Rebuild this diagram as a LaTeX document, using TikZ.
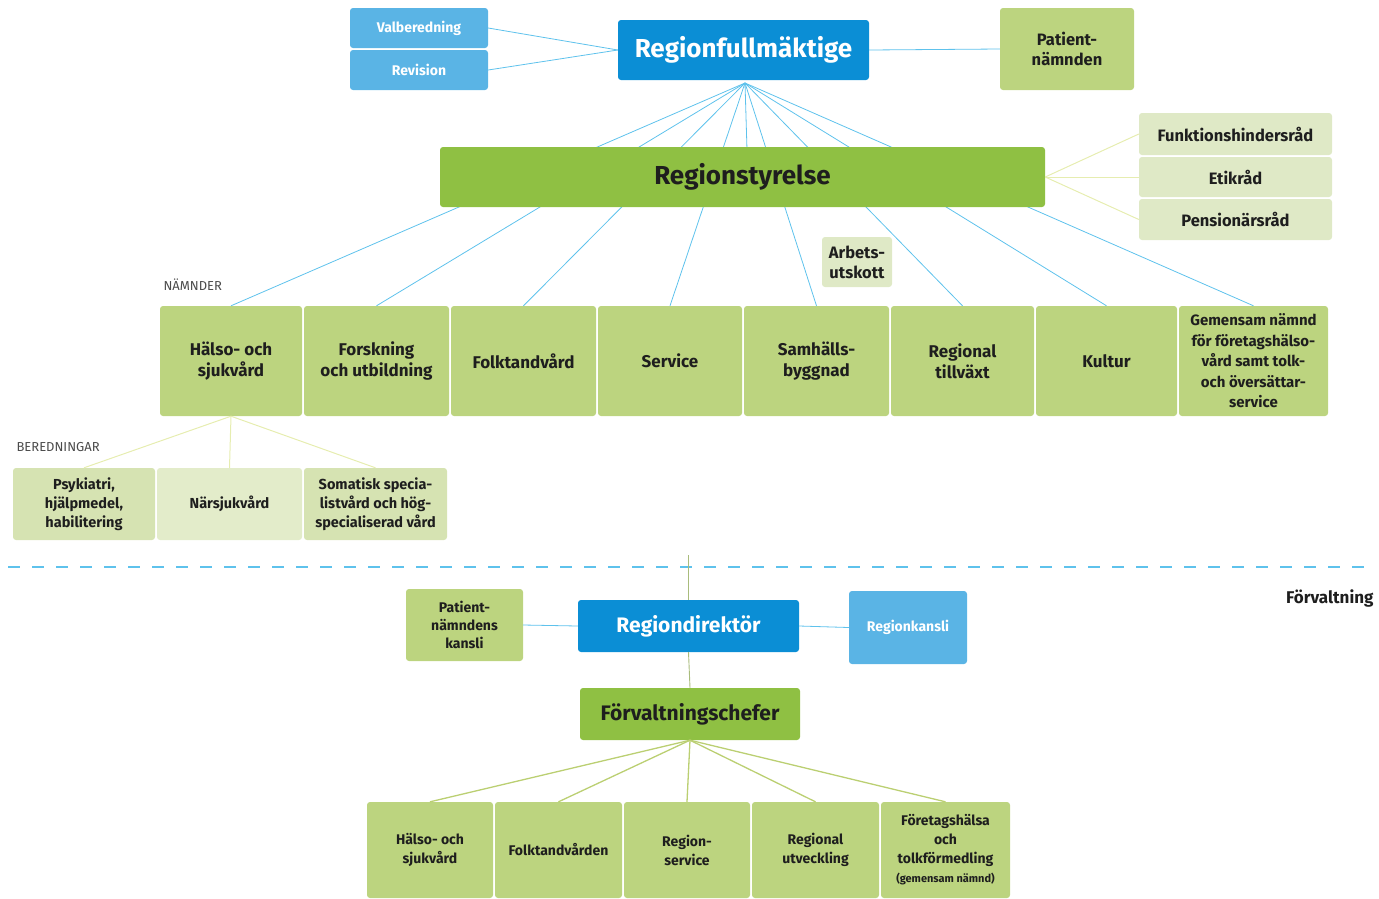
\documentclass[tikz,border=0pt]{standalone}
\usepackage{fontspec}
\setmainfont{Fira Sans}
\usetikzlibrary{calc}
\definecolor{dblue}{HTML}{0B8ED5}
\definecolor{lblue}{HTML}{5AB4E5}
\definecolor{lineblue}{HTML}{5EC2EC}
\definecolor{mgreen}{HTML}{8FC043}
\definecolor{ngreen}{HTML}{BCD47F}
\definecolor{pgreen}{HTML}{DFE9C6}
\definecolor{bgreen}{HTML}{D6E3B2}
\definecolor{bgreenl}{HTML}{E3ECCA}
\definecolor{paleline}{HTML}{E6EDB0}
\definecolor{gline}{HTML}{BBCF72}
\definecolor{vline}{HTML}{A9BC7C}
\definecolor{txt}{HTML}{1E1E1E}
\tikzset{
  box/.style={rounded corners=3pt, align=center, inner sep=1pt, font=\bfseries, text=txt},
  bluebox/.style={box, fill=dblue, text=white},
  lbluebox/.style={box, fill=lblue, text=white},
  nbox/.style={box, fill=ngreen},
  pbox/.style={box, fill=pgreen},
  bline/.style={draw=lineblue, line width=0.8pt},
  pline/.style={draw=paleline, line width=1pt},
  gl/.style={draw=gline, line width=1.3pt},
  vl/.style={draw=vline, line width=0.9pt},
}
\newcommand{\bx}[6]{\node[#1, minimum width=#4pt, minimum height=#5pt] (#2) at (#3) {#6};}
\begin{document}
\begin{tikzpicture}[x=1pt,y=-1pt]
\useasboundingbox (0,0) rectangle (1379,898);
% top level
\bx{lbluebox, font=\bfseries\fontsize{14}{16}\selectfont}{valb}{419,28}{138}{40}{Valberedning}
\bx{lbluebox, font=\bfseries\fontsize{14}{16}\selectfont}{rev}{419,70}{138}{40}{Revision}
\bx{bluebox, font=\bfseries\fontsize{26}{30}\selectfont}{rf}{743.5,50}{251}{60}{Regionfullmäktige}
\bx{nbox, font=\bfseries\fontsize{16.5}{20}\selectfont}{pat}{1067,49}{134}{82}{Patient-\\nämnden}
\coordinate (fo) at (745,83);
\draw[bline] (valb.east) -- (rf.west);
\draw[bline] (rev.east) -- (rf.west);
\draw[bline] (rf.east) -- (pat.west);
% nämnder
\foreach \n/\x/\w/\t in {n1/231/142/{Hälso- och\\sjukvård},
  n2/376.5/145/{Forskning\\och utbildning},
  n3/523.5/145/{Folktandvård},
  n4/670/144/{Service},
  n5/816.5/145/{Samhälls-\\byggnad},
  n6/962.5/143/{Regional\\tillväxt},
  n7/1106.5/141/{Kultur}}{
  \bx{nbox, font=\bfseries\fontsize{17}{21}\selectfont}{\n}{\x,361}{\w}{110}{\t}
}
\bx{nbox, font=\bfseries\fontsize{15}{20.5}\selectfont}{n8}{1253.5,361}{149}{110}{Gemensam nämnd\\för företagshälso-\\vård samt tolk-\\och översättar-\\service}
\foreach \n in {n1,n2,n3,n4,n5,n6,n7,n8}{\draw[bline] (fo) -- (\n.north);}
\draw[bline] (fo) -- (747,150);
% regionstyrelse
\bx{box, fill=mgreen, font=\bfseries\fontsize{26}{30}\selectfont}{rs}{742.5,177}{605}{60}{Regionstyrelse}
\bx{pbox, font=\bfseries\fontsize{16.5}{20}\selectfont}{fh}{1235.5,134}{193}{42}{Funktionshindersråd}
\bx{pbox, font=\bfseries\fontsize{16.5}{20}\selectfont}{etik}{1235.5,177}{193}{40}{Etikråd}
\bx{pbox, font=\bfseries\fontsize{16.5}{20}\selectfont}{pens}{1235.5,219.5}{193}{41}{Pensionärsråd}
\draw[pline] (rs.east) -- (fh.west);
\draw[pline] (rs.east) -- (etik.west);
\draw[pline] (rs.east) -- (pens.west);
\bx{pbox, font=\bfseries\fontsize{16.5}{20}\selectfont}{arb}{857,262}{70}{50}{Arbets-\\utskott}
\node[anchor=west, font=\fontsize{13}{15}\selectfont, text=txt!80] (namnder) at (160,285) {NÄMNDER};
% beredningar
\node[anchor=west, font=\fontsize{13}{15}\selectfont, text=txt!80] (bered) at (13,447) {BEREDNINGAR};
\bx{box, fill=bgreen, font=\bfseries\fontsize{14.5}{19}\selectfont}{b1}{84,504}{142}{72}{Psykiatri,\\hjälpmedel,\\habilitering}
\bx{box, fill=bgreenl, font=\bfseries\fontsize{14.5}{19}\selectfont}{b2}{229.5,504}{145}{72}{Närsjukvård}
\bx{box, fill=bgreen, font=\bfseries\fontsize{14.5}{19}\selectfont}{b3}{375.5,504}{143}{72}{Somatisk specia-\\listvård och hög-\\specialiserad vård}
\draw[pline] (n1.south) -- (b1.north);
\draw[pline] (n1.south) -- (b2.north);
\draw[pline] (n1.south) -- (b3.north);
% divider
\coordinate (dl) at (8,567);
\coordinate (dr) at (1375,567);
\draw[draw=lineblue, line width=1.5pt, dash pattern=on 12pt off 12pt] (dl) -- (dr);
\node[anchor=east, font=\bfseries\fontsize{17}{20}\selectfont, text=txt] (forv) at (1377,598) {Förvaltning};
% förvaltning
\coordinate (vtop) at (688.5,555);
\bx{nbox, font=\bfseries\fontsize{14}{18}\selectfont}{pk}{464.5,625}{117}{72}{Patient-\\nämndens\\kansli}
\bx{bluebox, font=\bfseries\fontsize{21}{24}\selectfont}{rd}{688.5,626}{221}{52}{Regiondirektör}
\bx{lbluebox, font=\bfseries\fontsize{14}{18}\selectfont}{rk}{908,627.5}{118}{73}{Regionkansli}
\bx{box, fill=mgreen, font=\bfseries\fontsize{21}{24}\selectfont}{fc}{690,714}{220}{52}{Förvaltningschefer}
\draw[vl] (vtop) -- (rd.north);
\draw[vl] (rd.south) -- (fc.north);
\draw[bline] (pk.east) -- (rd.west);
\draw[bline] (rd.east) -- (rk.west);
\foreach \n/\x/\w/\t in {f1/430/126/{Hälso- och\\sjukvård},
  f2/558.5/127/{Folktandvården},
  f3/687/126/{Region-\\service},
  f4/815.5/127/{Regional\\utveckling}}{
  \bx{nbox, font=\bfseries\fontsize{14}{19}\selectfont}{\n}{\x,850}{\w}{96}{\t}
}
\bx{nbox, font=\bfseries\fontsize{14}{19}\selectfont}{f5}{945.5,850}{129}{96}{Företagshälsa\\och\\tolkförmedling\\{\fontsize{11}{13}\selectfont(gemensam nämnd)}}
\foreach \n in {f1,f2,f3,f4,f5}{\draw[gl] (fc.south) -- (\n.north);}
\end{tikzpicture}
\end{document}
